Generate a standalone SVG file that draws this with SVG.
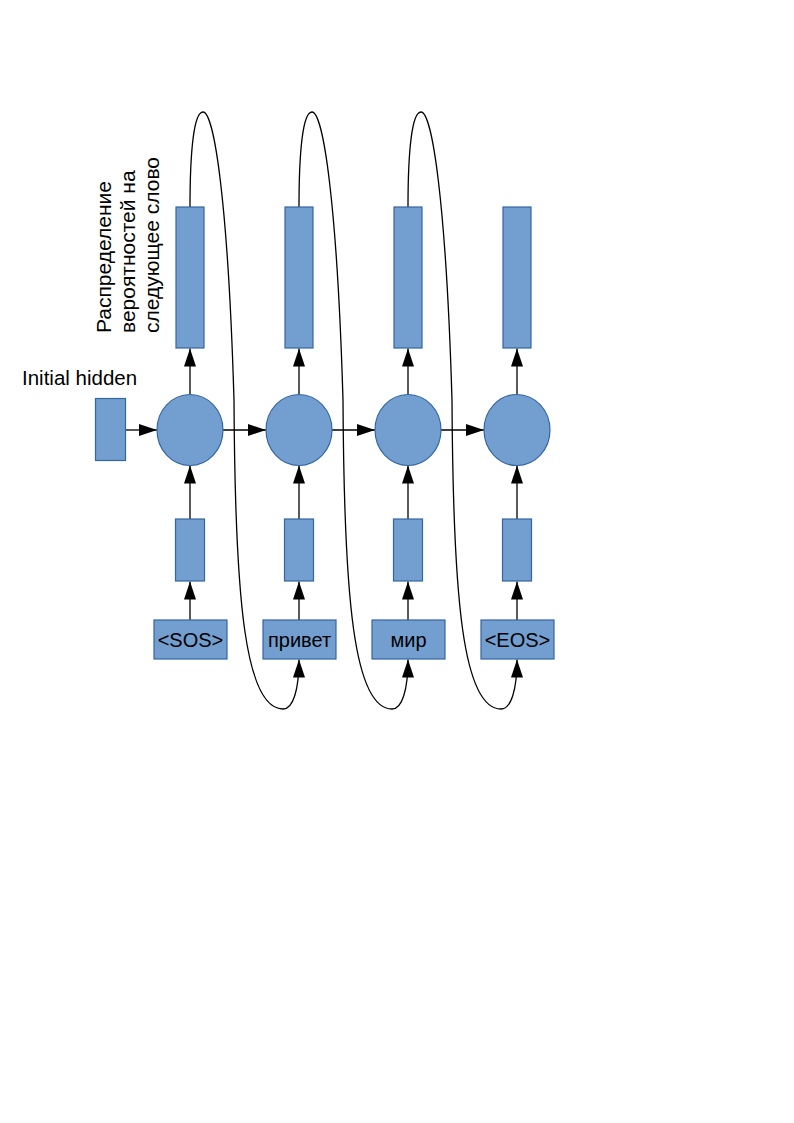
<svg xmlns="http://www.w3.org/2000/svg" width="794" height="1123" viewBox="0 0 794 1123">
<style>
.box{fill:#729fcf;stroke:#3465a4;stroke-width:1.2}
.t{font-family:"Liberation Sans",Arial,sans-serif;font-size:20px;fill:#000}
.r{font-size:21px}
.c{text-anchor:middle}
.ln{fill:none;stroke:#000;stroke-width:1.3}
</style>
<defs>
<marker id="ah" markerUnits="userSpaceOnUse" markerWidth="19" markerHeight="13" refX="18" refY="6" orient="auto">
<path d="M0,0 L18,6 L0,12 Z" fill="#000"/>
</marker>
</defs>
<rect width="794" height="1123" fill="#fff"/>

<g id="connectors">
<line class="ln" x1="125" y1="430" x2="157" y2="430" marker-end="url(#ah)"/>
<line class="ln" x1="223" y1="430" x2="266" y2="430" marker-end="url(#ah)"/>
<line class="ln" x1="332" y1="430" x2="375" y2="430" marker-end="url(#ah)"/>
<line class="ln" x1="441" y1="430" x2="484" y2="430" marker-end="url(#ah)"/>

<line class="ln" x1="190" y1="394.5" x2="190" y2="348.5" marker-end="url(#ah)"/>
<line class="ln" x1="299" y1="394.5" x2="299" y2="348.5" marker-end="url(#ah)"/>
<line class="ln" x1="408" y1="394.5" x2="408" y2="348.5" marker-end="url(#ah)"/>
<line class="ln" x1="517" y1="394.5" x2="517" y2="348.5" marker-end="url(#ah)"/>

<line class="ln" x1="190" y1="519" x2="190" y2="465.5" marker-end="url(#ah)"/>
<line class="ln" x1="299" y1="519" x2="299" y2="465.5" marker-end="url(#ah)"/>
<line class="ln" x1="408" y1="519" x2="408" y2="465.5" marker-end="url(#ah)"/>
<line class="ln" x1="517" y1="519" x2="517" y2="465.5" marker-end="url(#ah)"/>

<line class="ln" x1="190" y1="620" x2="190" y2="581.5" marker-end="url(#ah)"/>
<line class="ln" x1="299" y1="620" x2="299" y2="581.5" marker-end="url(#ah)"/>
<line class="ln" x1="408" y1="620" x2="408" y2="581.5" marker-end="url(#ah)"/>
<line class="ln" x1="517" y1="620" x2="517" y2="581.5" marker-end="url(#ah)"/>

<path class="ln" marker-end="url(#ah)" d="M190,207 C190,150 194,112 203,112 C214,112 228,200 234,400 C235,600 245,709 283,709 C293,709 299,690 299,659.5"/>
<path class="ln" marker-end="url(#ah)" d="M299,207 C299,150 303,112 312,112 C323,112 337,200 343,400 C344,600 354,709 392,709 C402,709 408,690 408,659.5"/>
<path class="ln" marker-end="url(#ah)" d="M408,207 C408,150 412,112 421,112 C432,112 446,200 452,400 C453,600 463,709 501,709 C511,709 517,690 517,659.5"/>
</g>

<g id="initial">
<rect class="box" x="95.5" y="398.5" width="30" height="62"/>
<text class="t" x="22" y="385" style="font-size:20.5px">Initial hidden</text>
</g>

<g id="label">
<text class="t r" transform="translate(111,333) rotate(-90)">Распределение</text>
<text class="t r" transform="translate(135,333) rotate(-90)">вероятностей на</text>
<text class="t r" transform="translate(159,333) rotate(-90)">следующее слово</text>
</g>

<g id="out1"><rect class="box" x="176" y="207" width="28" height="141"/></g>
<g id="out2"><rect class="box" x="285" y="207" width="28" height="141"/></g>
<g id="out3"><rect class="box" x="394" y="207" width="28" height="141"/></g>
<g id="out4"><rect class="box" x="503" y="207" width="28" height="141"/></g>

<g id="rnn1"><ellipse class="box" cx="190" cy="430" rx="33" ry="35.5"/></g>
<g id="rnn2"><ellipse class="box" cx="299" cy="430" rx="33" ry="35.5"/></g>
<g id="rnn3"><ellipse class="box" cx="408" cy="430" rx="33" ry="35.5"/></g>
<g id="rnn4"><ellipse class="box" cx="517" cy="430" rx="33" ry="35.5"/></g>

<g id="emb1"><rect class="box" x="175.5" y="519" width="29" height="62"/></g>
<g id="emb2"><rect class="box" x="284.5" y="519" width="29" height="62"/></g>
<g id="emb3"><rect class="box" x="393.5" y="519" width="29" height="62"/></g>
<g id="emb4"><rect class="box" x="502.5" y="519" width="29" height="62"/></g>

<g id="w1"><rect class="box" x="154" y="620" width="73" height="39"/><text class="t c" x="190.5" y="647">&lt;SOS&gt;</text></g>
<g id="w2"><rect class="box" x="263" y="620" width="73" height="39"/><text class="t c" x="299.5" y="647">привет</text></g>
<g id="w3"><rect class="box" x="372" y="620" width="73" height="39"/><text class="t c" x="408.5" y="647">мир</text></g>
<g id="w4"><rect class="box" x="481" y="620" width="73" height="39"/><text class="t c" x="517.5" y="647">&lt;EOS&gt;</text></g>
</svg>
